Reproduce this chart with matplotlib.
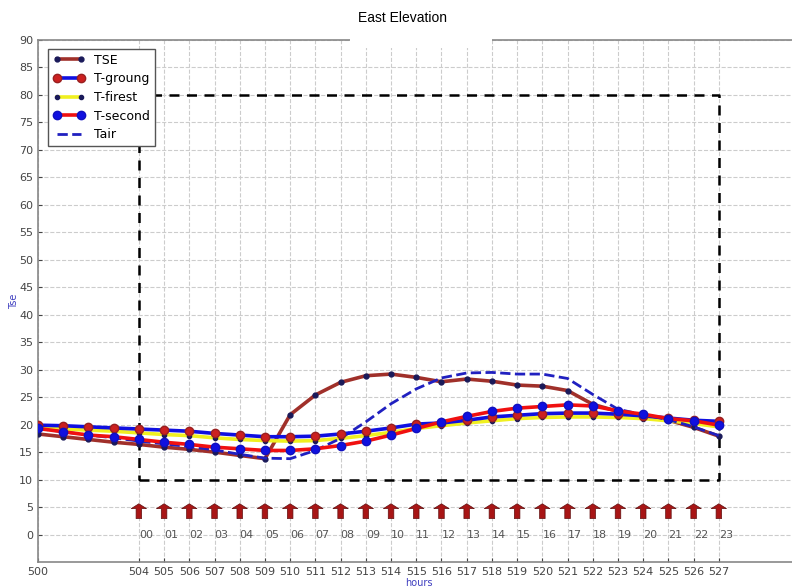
import numpy as np
import matplotlib
matplotlib.use('Agg')
import matplotlib.pyplot as plt
from matplotlib.patches import Rectangle

hours = list(range(500, 528))
tse = [18.3, 17.8, 17.3, 16.8, 16.4, 15.9, 15.5, 15.0, 14.4, 13.8,
       21.8, 25.4, 27.7, 28.9, 29.2, 28.6, 27.8, 28.3, 27.9, 27.2,
       27.0, 26.2, 23.7, 22.4, 21.6, 20.8, 19.5, 17.9]
t_groung = [19.9, 19.8, 19.6, 19.4, 19.2, 19.0, 18.8, 18.4, 18.1, 17.8,
            17.8, 17.9, 18.3, 18.8, 19.4, 20.1, 20.3, 20.8, 21.4, 21.7,
            22.0, 22.1, 22.1, 21.9, 21.6, 21.2, 20.8, 20.6]
t_firest = [19.4, 19.2, 19.0, 18.8, 18.5, 18.2, 18.0, 17.6, 17.3, 17.1,
            17.0, 17.1, 17.5, 18.0, 18.6, 19.3, 19.8, 20.3, 20.7, 21.1,
            21.3, 21.4, 21.4, 21.3, 21.1, 20.7, 20.2, 19.6]
t_second = [19.3, 18.7, 18.1, 17.8, 17.3, 16.8, 16.4, 15.9, 15.6, 15.3,
            15.3, 15.6, 16.2, 17.0, 18.1, 19.3, 20.5, 21.5, 22.4, 23.0,
            23.3, 23.6, 23.4, 22.5, 21.9, 21.1, 20.7, 19.9]
tair = [19.3, 18.7, 18.1, 17.6, 17.0, 16.5, 16.0, 15.4, 14.6, 13.9,
        13.8, 15.3, 17.5, 20.5, 23.8, 26.5, 28.5, 29.4, 29.5, 29.2,
        29.2, 28.4, 25.5, 22.8, 21.8, 20.9, 19.6, 18.0]
day_hours = list(range(504, 528))
day_labels = ['%02d' % i for i in range(24)]
xticks = [500] + day_hours

fig = plt.figure(figsize=(7.92, 5.88), dpi=100)
# axes runs past the right edge of the picture, as in the original
ax = fig.add_axes([38/792., 1 - 562/588., 1.01 - 38/792., (562 - 40)/588.])

ax.plot(hours, tse, '-', color='#a0302a', lw=2.6, marker='o', ms=3.5,
        mfc='#1a1a5a', mec='#1a1a5a', label='TSE', zorder=3)
ax.plot(hours, t_groung, '-', color='#1010e0', lw=2.6, marker='o', ms=6,
        mfc='#cc2020', mec='#992020', label='T-groung', zorder=4)
ax.plot(hours, t_firest, '-', color='#f0f020', lw=2.6, marker='o', ms=3,
        mfc='#1a1a5a', mec='#1a1a5a', label='T-firest', zorder=3)
ax.plot(hours, t_second, '-', color='#f01010', lw=2.6, marker='o', ms=6,
        mfc='#1010e0', mec='#1010c0', label='T-second', zorder=4)
ax.plot(hours, tair, '--', color='#2020c0', lw=2, label='Tair', zorder=3)

# dashed box
ax.plot([504, 527, 527, 504, 504], [10, 10, 80, 80, 10], '--',
        color='black', lw=1.8, dashes=(4, 3), zorder=2)

# hour arrows and labels
for h, lab in zip(day_hours, day_labels):
    ax.annotate('', xy=(h, 5.6), xytext=(h, 2.9),
                arrowprops=dict(facecolor='#a81515', edgecolor='#601010',
                                width=4, headwidth=11, headlength=3.5, lw=0.5))
    ax.text(h, 0, lab, ha='left', va='center', fontsize=8, color='#555555')

ax.set_xlim(500, 529.9 + 0.01 * 792 / 25.2)
ax.set_ylim(-5, 90)
ax.set_xticks(xticks)
ax.set_yticks(range(0, 95, 5))
ax.tick_params(direction='in', labelsize=8, colors='#444444', length=3)
ax.grid(True, ls='--', color='#cccccc', lw=0.8)
ax.set_axisbelow(True)
for s in ax.spines.values():
    s.set_color('#888888')
    s.set_linewidth(1.2)
ax.spines['right'].set_visible(False)

ax.set_xlabel('hours', fontsize=7, color='#4040c0', labelpad=1)
ax.set_ylabel('Tse', fontsize=7, color='#4040c0', labelpad=0)

leg = ax.legend(loc='upper left', fontsize=9, numpoints=2, handlelength=2.5,
                borderpad=0.4, labelspacing=0.45, fancybox=False,
                framealpha=1, bbox_to_anchor=(0.005, 0.995))
leg.get_frame().set_edgecolor('#555555')
leg.get_frame().set_linewidth(1)
leg.set_zorder(10)

# white box behind title
fig.patches.append(Rectangle((350/792., 1 - 48/588.), 142/792., 48/588.,
                             transform=fig.transFigure, facecolor='white',
                             edgecolor='none', zorder=5))
fig.text(403/792., 1 - 18/588., 'East Elevation', ha='center', va='center',
         fontsize=10, family='Liberation Sans', zorder=6)

fig.savefig('out.png', dpi=100)
